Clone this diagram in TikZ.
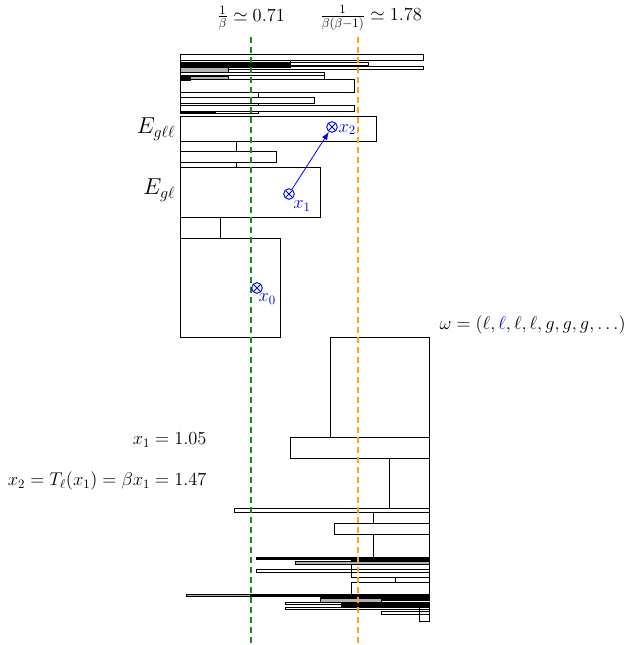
\documentclass[tikz,border=0pt]{standalone}
\usepackage{amsmath,amssymb}
\usepackage{xcolor}
\usepackage{tikz}
\usetikzlibrary{arrows.meta,positioning}
\definecolor{lowgreen}{RGB}{25,140,25}
\definecolor{highorange}{RGB}{255,170,0}
\tikzset{
  cellbox/.style={draw, line width=0.55pt},
  darkcell/.style={cellbox, fill=black},
  greycell/.style={cellbox, fill=gray!60},
  thrline/.style={line width=1.2pt, dash pattern=on 4.5pt off 3pt},
  lowthr/.style={thrline, draw=lowgreen},
  highthr/.style={thrline, draw=highorange},
  ptmark/.style={
    circle,
    draw=blue,
    line width=0.7pt,
    inner sep=0pt,
    minimum size=8pt,
    path picture={
      \draw[blue, line width=0.7pt]
        (path picture bounding box.north west) -- (path picture bounding box.south east)
        (path picture bounding box.north east) -- (path picture bounding box.south west);
    }
  },
  ptlabel/.style={text=blue, font=\Large, scale=0.96, transform shape, inner sep=0pt},
  orbitflow/.style={-{Latex[length=6pt,width=4.5pt]}, blue, line width=0.6pt},
  setlabel/.style={font=\LARGE, inner sep=1pt},
  infolabel/.style={font=\Large, scale=0.96, transform shape, inner sep=1pt}
}

\begin{document}
\begin{tikzpicture}[x=0.75pt, y=-0.75pt]
\useasboundingbox (0,0) rectangle (631,645);

% upper stack, left edge fixed
\foreach \r/\t/\b in {423/54/60, 290/60/62, 368/62/65, 423/66/69, 324/72/75, 324/75/79,
  354/79/92, 258/92/97, 314/97/103, 258/103/105, 354/105/111, 258/111/113,
  376/116/141, 236/141/151, 276/151/162, 236/162/167, 320/167/217,
  220/217/238, 280/238/337}
  \draw[cellbox] (180,\t) rectangle (\r,\b);
\draw[darkcell] (180,63) rectangle (290,67);
\draw[greycell] (180,67) rectangle (228,72);
\draw[darkcell] (180,75) rectangle (190,80);
\draw[greycell] (190,76) rectangle (228,79);
\draw[darkcell] (180,111) rectangle (215,113);

% lower stack, right edge fixed
\foreach \l/\t/\b in {330/337/437, 290/437/458, 389/458/508, 234/508/512,
  373/512/523, 334/523/534, 373/534/558, 351/560/577, 256/569/572,
  395/577/582, 351/582/594, 285/602/604, 285/607/609, 419/605/621, 381/611/614}
  \draw[cellbox] (\l,\t) rectangle (429,\b);
\draw[darkcell] (256,557) rectangle (429,559);
\draw[greycell] (295,561) rectangle (429,564);
\draw[greycell] (186,594) rectangle (429,596);
\draw[darkcell] (250,594) rectangle (429,596);
\draw[darkcell] (320,594) rectangle (429,600);
\draw[greycell] (320,598) rectangle (381,602);
\draw[darkcell] (341,603) rectangle (429,606);

% thresholds
\node[infolabel] (lowlbl) at (251,18) {$\frac{1}{\beta}\simeq 0.71$};
\node[infolabel] (highlbl) at (371,18) {$\frac{1}{\beta(\beta-1)}\simeq 1.78$};
\coordinate (lowtop) at (251,37);
\coordinate (lowbot) at (251,645);
\coordinate (hightop) at (358,37);
\coordinate (highbot) at (358,645);
\draw[lowthr] (lowtop) -- (lowbot);
\draw[highthr] (hightop) -- (highbot);

% set names
\node[setlabel, anchor=east] (egll) at (177,129) {$E_{g\ell\ell}$};
\node[setlabel, anchor=east] (egl) at (177,190) {$E_{g\ell}$};

% orbit
\node[ptmark, label={[ptlabel, anchor=north west, xshift=1pt, yshift=0pt]south:$x_0$}] (x0) at (257,288) {};
\node[ptmark, label={[ptlabel, anchor=north west, yshift=-2pt]south east:$x_1$}] (x1) at (289,194) {};
\node[ptmark, label={[ptlabel, anchor=base west, xshift=0.5pt, yshift=-4pt]east:$x_2$}] (x2) at (332,127) {};
\draw[orbitflow] (x1) -- (x2);

% word and values
\node[infolabel, anchor=west] (word) at (438,325) {$\omega=(\ell,{\color{blue}\ell},\ell,\ell,g,g,g,\ldots)$};
\node[infolabel, anchor=east] (xone) at (208,440) {$x_1=1.05$};
\node[infolabel, anchor=east] (xtwo) at (208,481) {$x_2=T_\ell(x_1)=\beta x_1=1.47$};
\end{tikzpicture}
\end{document}
